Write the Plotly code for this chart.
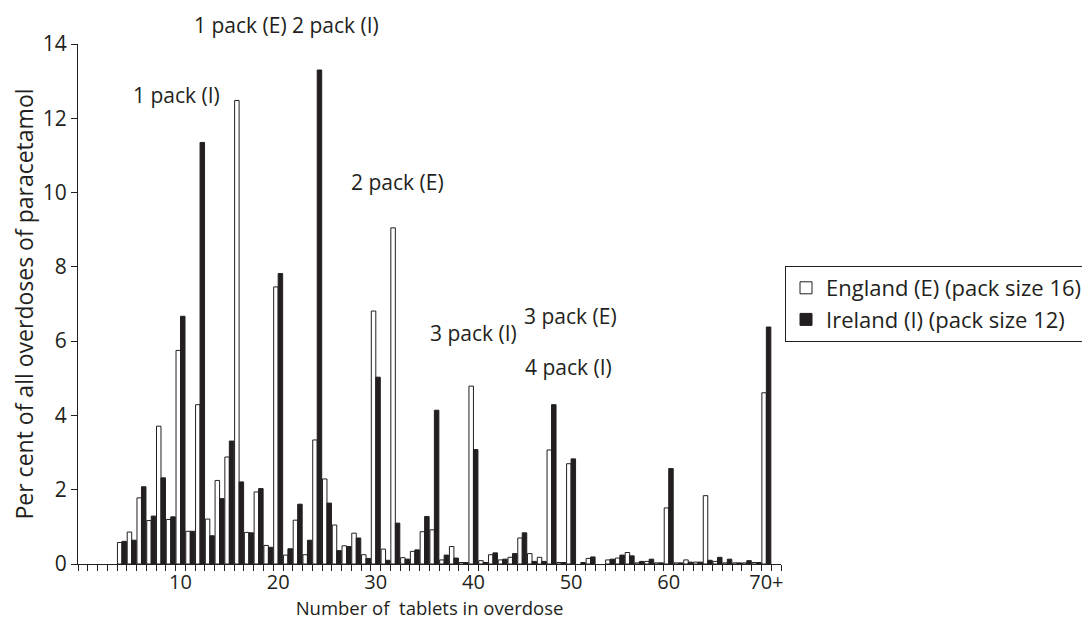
import plotly.graph_objects as go

# Categories: number of tablets 0..71 (70 = "70+")
tablets = list(range(0, 72))

england = [None, None, None, None,
           0.58, 0.86, 1.78, 1.17, 3.71, 1.20,   # 4-9
           5.75, 0.88, 4.29, 1.21, 2.25, 2.88,   # 10-15
           12.48, 0.85, 1.94, 0.50, 7.46, 0.24,  # 16-21
           1.18, 0.25, 3.34, 2.29, 1.05, 0.49,   # 22-27
           0.83, 0.25, 6.81, 0.40, 9.05, 0.17,   # 28-33
           0.34, 0.87, 0.92, 0.11, 0.47, 0.04,   # 34-39
           4.79, 0.09, 0.25, 0.11, 0.18, 0.70,   # 40-45
           0.28, 0.18, 3.07, 0.04, 2.70, None,   # 46-51
           0.15, None, 0.11, 0.16, 0.31, 0.03,   # 52-57
           0.07, 0.03, 1.51, 0.03, 0.11, 0.05,   # 58-63
           1.84, 0.07, 0.03, 0.03, 0.03, 0.04,   # 64-69
           4.61, None]                           # 70-71

ireland = [None, None, None, None,
           0.61, 0.64, 2.08, 1.29, 2.32, 1.27,   # 4-9
           6.67, 0.88, 11.35, 0.76, 1.76, 3.31,  # 10-15
           2.21, 0.84, 2.03, 0.45, 7.82, 0.41,   # 16-21
           1.61, 0.64, 13.30, 1.64, 0.36, 0.47,  # 22-27
           0.70, 0.15, 5.03, 0.10, 1.10, 0.13,   # 28-33
           0.38, 1.28, 4.14, 0.24, 0.16, 0.04,   # 34-39
           3.08, 0.04, 0.30, 0.13, 0.28, 0.84,   # 40-45
           0.07, 0.07, 4.29, 0.04, 2.83, 0.04,   # 46-51
           0.19, None, 0.13, 0.24, 0.22, 0.07,   # 52-57
           0.13, 0.03, 2.57, 0.03, 0.05, 0.05,   # 58-63
           0.10, 0.18, 0.13, 0.03, 0.09, 0.04,   # 64-69
           6.38, None]                           # 70-71

tick_positions = [10, 20, 30, 40, 50, 60, 70]
tick_labels = ["10", "20", "30", "40", "50", "60", "70+"]

# annotations inside the value range: (text, x category, y value)
notes = [
    ("1 pack (I)", 9.55, 12.63),
    ("2 pack (E)", 32.2, 10.29),
    ("3 pack (I)", 40.0, 6.22),
    ("3 pack (E)", 49.9, 6.68),
    ("4 pack (I)", 49.7, 5.30),
]
# annotations above the plot top: (text, x category, paper y)
top_notes = [
    ("1 pack (E)", 16.1, 1.037),
    ("2 pack (I)", 25.9, 1.037),
]

DARK = "#231f20"
FONT = "Open Sans"

fig = go.Figure()
fig.add_trace(go.Bar(x=tablets, y=england, name="England (E) (pack size 16)",
                     marker=dict(color="white", line=dict(color=DARK, width=1))))
fig.add_trace(go.Bar(x=tablets, y=ireland, name="Ireland (I) (pack size 12)",
                     marker=dict(color=DARK, line=dict(color=DARK, width=1))))

for text, xv, yv in notes:
    fig.add_annotation(x=xv, y=yv, xref="x", yref="y", text=text, showarrow=False,
                       xanchor="center", yanchor="middle",
                       font=dict(family=FONT, size=21, color=DARK))
for text, xv, yv in top_notes:
    fig.add_annotation(x=xv, y=yv, xref="x", yref="paper", text=text, showarrow=False,
                       xanchor="center", yanchor="middle",
                       font=dict(family=FONT, size=21, color=DARK))

fig.update_layout(
    width=1082, height=617,
    margin=dict(l=70, r=309, t=36, b=61, autoexpand=False),
    paper_bgcolor="white", plot_bgcolor="white",
    barmode="group", bargap=0.08, bargroupgap=0.0,
    font=dict(family=FONT, size=19, color=DARK),
    showlegend=True,
    legend=dict(x=1.0057, y=0.50, xanchor="left", yanchor="middle",
                bordercolor=DARK, borderwidth=1, bgcolor="white",
                font=dict(family=FONT, size=22, color=DARK),
                tracegroupgap=0, itemwidth=30),
    xaxis=dict(range=[-0.5, 71.5], tickmode="array", tickvals=tick_positions,
               ticktext=tick_labels, ticks="", showgrid=False, zeroline=False,
               showline=True, linecolor=DARK, linewidth=1,
               minor=dict(tickmode="linear", tick0=-0.5, dtick=1, ticks="outside",
                          ticklen=6, tickcolor=DARK, tickwidth=1, showgrid=False),
               title=dict(text="Number of  tablets in overdose", standoff=4,
                          font=dict(family=FONT, size=18.5, color=DARK)),
               tickfont=dict(family=FONT, size=20, color=DARK)),
    yaxis=dict(range=[0, 14], tickmode="linear", tick0=0, dtick=2, ticks="outside",
               ticklen=6, tickcolor=DARK, showgrid=False, zeroline=False,
               showline=True, linecolor=DARK, linewidth=1,
               title=dict(text="Per cent of all overdoses of paracetamol", standoff=6,
                          font=dict(family=FONT, size=23, color=DARK)),
               tickfont=dict(family=FONT, size=21, color=DARK)),
)

fig.write_html("out.html")
